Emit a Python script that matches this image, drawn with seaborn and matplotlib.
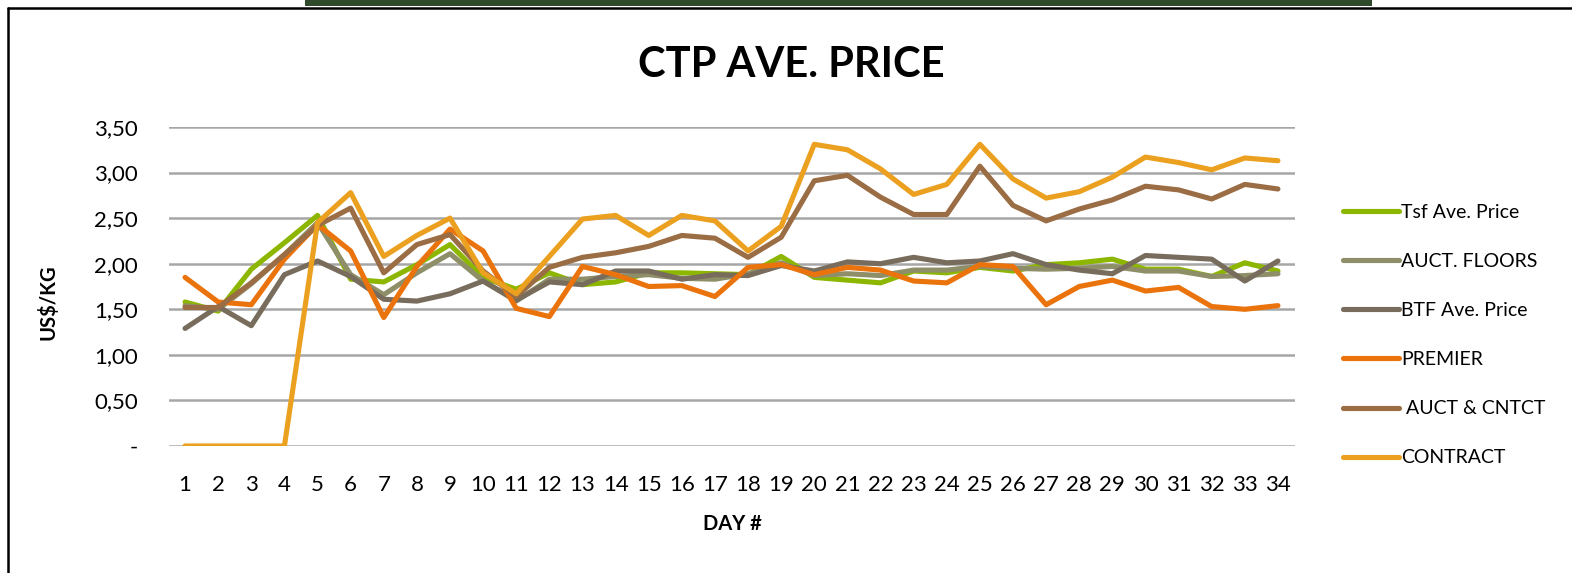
import numpy as np
import pandas as pd
import matplotlib
matplotlib.use("Agg")
import matplotlib.pyplot as plt
import seaborn as sns
from matplotlib.lines import Line2D
from matplotlib.patches import Rectangle

days = list(range(1, 35))
series_names = ["Tsf Ave. Price", "AUCT. FLOORS", "BTF Ave. Price", "PREMIER", " AUCT & CNTCT", "CONTRACT"]
tsf = [1.58, 1.48, 1.94, 2.23, 2.53, 1.83, 1.80, 1.99, 2.21, 1.85, 1.72, 1.90, 1.77, 1.80, 1.90, 1.90, 1.89,
       1.88, 2.08, 1.85, 1.82, 1.79, 1.92, 1.90, 1.96, 1.92, 1.99, 2.01, 2.05, 1.94, 1.94, 1.86, 2.01, 1.92]
floors = [1.54, 1.50, 1.78, 2.10, 2.45, 1.88, 1.66, 1.90, 2.11, 1.81, 1.59, 1.83, 1.83, 1.86, 1.88, 1.84, 1.83,
          1.89, 2.01, 1.87, 1.89, 1.87, 1.93, 1.93, 1.97, 1.95, 1.94, 1.95, 1.97, 1.92, 1.92, 1.86, 1.87, 1.89]
btf = [1.29, 1.53, 1.32, 1.88, 2.03, 1.86, 1.61, 1.59, 1.67, 1.81, 1.60, 1.80, 1.77, 1.92, 1.92, 1.83, 1.88,
       1.87, 1.98, 1.92, 2.02, 2.00, 2.07, 2.01, 2.03, 2.11, 1.99, 1.93, 1.89, 2.09, 2.07, 2.05, 1.81, 2.03]
premier = [1.85, 1.58, 1.55, 2.05, 2.43, 2.14, 1.41, 1.97, 2.38, 2.14, 1.51, 1.42, 1.97, 1.88, 1.75, 1.76, 1.64,
           1.96, 1.99, 1.88, 1.96, 1.93, 1.81, 1.79, 1.99, 1.97, 1.55, 1.75, 1.82, 1.70, 1.74, 1.53, 1.50, 1.54]
auct_cntct = [1.52, 1.52, 1.79, 2.10, 2.42, 2.61, 1.90, 2.21, 2.32, 1.92, 1.64, 1.96, 2.07, 2.12, 2.19, 2.31, 2.28,
              2.07, 2.29, 2.91, 2.97, 2.73, 2.54, 2.54, 3.07, 2.64, 2.47, 2.60, 2.70, 2.85, 2.81, 2.71, 2.87, 2.82]
contract = [0, 0, 0, 0, 2.45, 2.78, 2.08, 2.31, 2.50, 1.90, 1.67, 2.08, 2.49, 2.53, 2.31, 2.53, 2.47,
            2.14, 2.41, 3.31, 3.25, 3.04, 2.76, 2.87, 3.31, 2.93, 2.72, 2.79, 2.95, 3.17, 3.11, 3.03, 3.16, 3.13]
y_ticks = [0, 0.5, 1.0, 1.5, 2.0, 2.5, 3.0, 3.5]
y_ticklabels = ["-", "0,50", "1,00", "1,50", "2,00", "2,50", "3,00", "3,50"]
colors = ["#8DB600", "#8E8F68", "#786C5C", "#EA730C", "#9A6D45", "#EBA020"]

all_vals = [tsf, floors, btf, premier, auct_cntct, contract]
df = pd.concat([pd.DataFrame({"day": days, "price": v, "series": n}) for n, v in zip(series_names, all_vals)],
               ignore_index=True)

sns.set_theme(style="white")
plt.rcParams["font.family"] = ["Lato", "DejaVu Sans"]
plt.rcParams["text.color"] = "black"

W, H = 1572, 573
fig = plt.figure(figsize=(W / 100, H / 100), dpi=100)
ax = fig.add_axes([168.5 / W, 1 - 446 / H, 1126 / W, 319 / H])

sns.lineplot(data=df, x="day", y="price", hue="series", hue_order=series_names, palette=colors,
             linewidth=3.7, ax=ax, legend=False, solid_joinstyle="round", solid_capstyle="round")

ax.set_xlim(0.5, 34.5)
ax.set_ylim(0, 3.5)
ax.set_yticks(y_ticks)
ax.set_yticklabels(y_ticklabels)
ax.set_xticks(days)
ax.set_xticklabels([str(d) for d in days])
ax.tick_params(axis="both", length=0, labelsize=16, colors="black")
ax.tick_params(axis="y", pad=22)
ax.tick_params(axis="x", pad=21)
ax.grid(axis="y", color="#A6A6A6", linewidth=1.8)
ax.set_axisbelow(True)
for s in ax.spines.values():
    s.set_visible(False)
ax.set_xlabel("")
ax.set_ylabel("")

fig.text(732 / W, 1 - 524 / H, "DAY #", ha="center", va="center", fontsize=14.5, fontweight="bold")
fig.text(48 / W, 1 - 302 / H, "US$/KG", ha="center", va="center", rotation=90, fontsize=14.5, fontweight="bold")
fig.text(791 / W, 1 - 65 / H, "CTP AVE. PRICE", ha="center", va="center", fontsize=30, fontweight="bold")

handles = [Line2D([0], [0], color=c, linewidth=3.7, solid_capstyle="round") for c in colors]
ax.legend(handles, series_names, loc="upper left", bbox_to_anchor=(1343 / W, 1 - 204 / H),
          bbox_transform=fig.transFigure, frameon=False, fontsize=14, handlelength=2.9,
          handletextpad=0.1, labelspacing=1.65, borderpad=0, borderaxespad=0)

# frame and top bar
fig.patches.append(Rectangle((305 / W, 1 - 6 / H), 1067 / W, 6 / H, transform=fig.transFigure,
                             facecolor="#2F4A2A", edgecolor="none"))
fig.lines.append(Line2D([8 / W, 1], [1 - 8 / H, 1 - 8 / H], transform=fig.transFigure, color="black", linewidth=1.8))
fig.lines.append(Line2D([8 / W, 8 / W], [0, 1 - 8 / H], transform=fig.transFigure, color="black", linewidth=1.8))

fig.savefig("out.png", dpi=100)
